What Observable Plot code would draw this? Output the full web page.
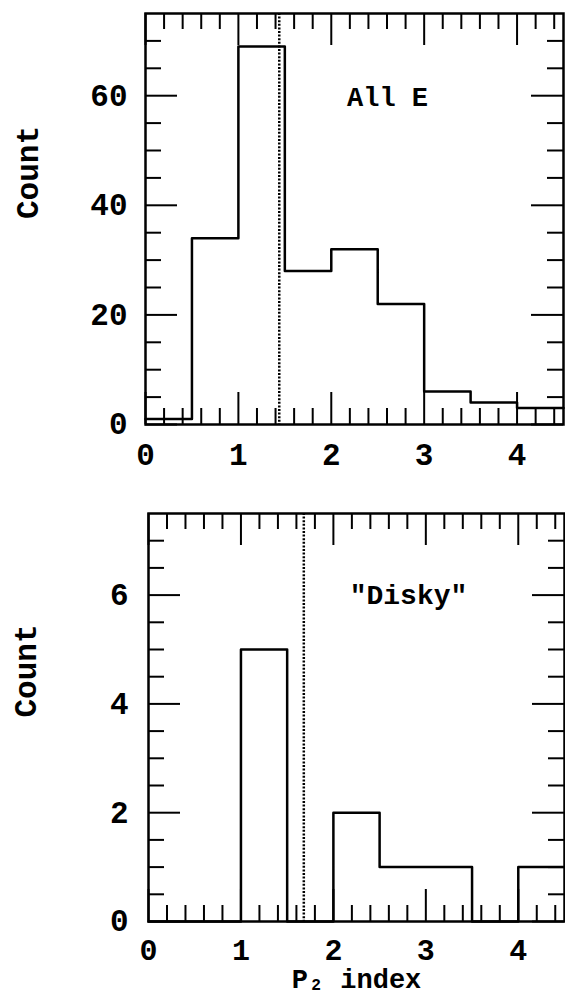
<!DOCTYPE html>
<html><head><meta charset="utf-8">
<script src="https://cdn.jsdelivr.net/npm/d3@7"></script>
<script src="https://cdn.jsdelivr.net/npm/@observablehq/plot@0.6"></script>
<style>body{margin:0;background:#fff} #chart svg{display:block;background:#fff}</style>
</head><body><div id="chart"></div>
<script>
// ---- data ----
const binStarts = [0, 0.5, 1, 1.5, 2, 2.5, 3, 3.5, 4];
const binEnd = 4.5;
const allECounts = [1, 34, 69, 28, 32, 22, 6, 4, 3];
const diskyCounts = [0, 0, 5, 0, 2, 1, 1, 0, 1];
const allEMarker = 1.44;
const diskyMarker = 1.68;
const xTickLabels = [0, 1, 2, 3, 4];
const xMinorTicks = [0.2,0.4,0.6,0.8,1.2,1.4,1.6,1.8,2.2,2.4,2.6,2.8,3.2,3.4,3.6,3.8,4.2,4.4];
const allEYTicks = [0, 20, 40, 60];
const allEYMinor = [5,10,15,25,30,35,45,50,55,65,70];
const diskyYTicks = [0, 2, 4, 6];
const diskyYMinor = [0.5,1,1.5,2.5,3,3.5,4.5,5,5.5,6.5,7];
const panelLabels = ["All E", "\"Disky\""];
const yLabel = "Count";
const xLabel = "P\u2082 index";

const FONT = "Liberation Mono, Courier New, monospace";
const txt = {fontFamily: FONT, fontWeight: "bold", fill: "black"};
const fmt = d => String(d);

function steps(counts) {
  const pts = binStarts.map((x, i) => ({x, y: counts[i]}));
  pts.push({x: binEnd, y: counts[counts.length - 1]});
  return pts;
}

function inwardTicks(xMaj, xMin, yMaj, yMin, pw, ph) {
  const M = 32, m = 16, sw = 2;
  return [
    Plot.ruleX(xMaj, {insetTop: ph - M, strokeWidth: sw}),
    Plot.ruleX(xMin, {insetTop: ph - m, strokeWidth: sw}),
    Plot.ruleX(xMaj, {insetBottom: ph - M, strokeWidth: sw}),
    Plot.ruleX(xMin, {insetBottom: ph - m, strokeWidth: sw}),
    Plot.ruleY(yMaj, {insetRight: pw - M, strokeWidth: sw}),
    Plot.ruleY(yMin, {insetRight: pw - m, strokeWidth: sw}),
    Plot.ruleY(yMaj, {insetLeft: pw - M, strokeWidth: sw}),
    Plot.ruleY(yMin, {insetLeft: pw - m, strokeWidth: sw})
  ];
}

const dotted = {strokeWidth: 2.5, strokeDasharray: "2,1.6"};

// ---- top panel ----
const L1 = {W: 565, H: 490, ml: 145, mr: 2, mt: 13, mb: 66};
const pw1 = L1.W - L1.ml - L1.mr, ph1 = L1.H - L1.mt - L1.mb;
const p1 = Plot.plot({
  width: L1.W, height: L1.H,
  marginLeft: L1.ml, marginRight: L1.mr, marginTop: L1.mt, marginBottom: L1.mb,
  x: {domain: [0, binEnd]},
  y: {domain: [0, 75]},
  style: {background: "white"},
  marks: [
    ...inwardTicks(xTickLabels, xMinorTicks, allEYTicks, allEYMinor, pw1, ph1),
    Plot.ruleX([allEMarker], dotted),
    Plot.line(steps(allECounts), {x: "x", y: "y", curve: "step-after", strokeWidth: 2.5}),
    Plot.frame({strokeWidth: 2.5}),
    Plot.axisX(xTickLabels, {tickSize: 0, tickPadding: 18, tickFormat: fmt, fontSize: 31, ...txt, label: null}),
    Plot.axisY(allEYTicks, {tickSize: 0, tickPadding: 18, tickFormat: fmt, fontSize: 31, ...txt, label: null}),
    Plot.text([yLabel], {frameAnchor: "left", rotate: -90, dx: 28 - L1.ml, fontSize: 31, ...txt}),
    Plot.text([panelLabels[0]], {frameAnchor: "top-left", dx: 387 - L1.ml, dy: 97 - L1.mt, textAnchor: "middle", lineAnchor: "middle", fontSize: 27, ...txt})
  ]
});

// ---- bottom panel ----
const L2 = {W: 565, H: 507, ml: 148, mr: 1, mt: 23, mb: 76};
const pw2 = L2.W - L2.ml - L2.mr, ph2 = L2.H - L2.mt - L2.mb;
const p2 = Plot.plot({
  width: L2.W, height: L2.H,
  marginLeft: L2.ml, marginRight: L2.mr, marginTop: L2.mt, marginBottom: L2.mb,
  x: {domain: [0, binEnd]},
  y: {domain: [0, 7.5]},
  style: {background: "white"},
  marks: [
    ...inwardTicks(xTickLabels, xMinorTicks, diskyYTicks, diskyYMinor, pw2, ph2),
    Plot.ruleX([diskyMarker], dotted),
    Plot.line(steps(diskyCounts), {x: "x", y: "y", curve: "step-after", strokeWidth: 2.5}),
    Plot.frame({strokeWidth: 2.5}),
    Plot.axisX(xTickLabels, {tickSize: 0, tickPadding: 17, tickFormat: fmt, fontSize: 30, ...txt, label: null}),
    Plot.axisY(diskyYTicks, {tickSize: 0, tickPadding: 20, tickFormat: fmt, fontSize: 31, ...txt, label: null}),
    Plot.text([yLabel], {frameAnchor: "left", rotate: -90, dx: 26 - L2.ml, fontSize: 31, ...txt}),
    Plot.text([panelLabels[1]], {frameAnchor: "top-left", dx: 408 - L2.ml, dy: 595 - (490 + L2.mt), textAnchor: "middle", lineAnchor: "middle", fontSize: 28, ...txt}),
    Plot.text([xLabel], {frameAnchor: "bottom", dy: 58, lineAnchor: "middle", fontSize: 27, ...txt})
  ]
});

const el = document.getElementById("chart");
el.append(p1, p2);
</script>
</body></html>
